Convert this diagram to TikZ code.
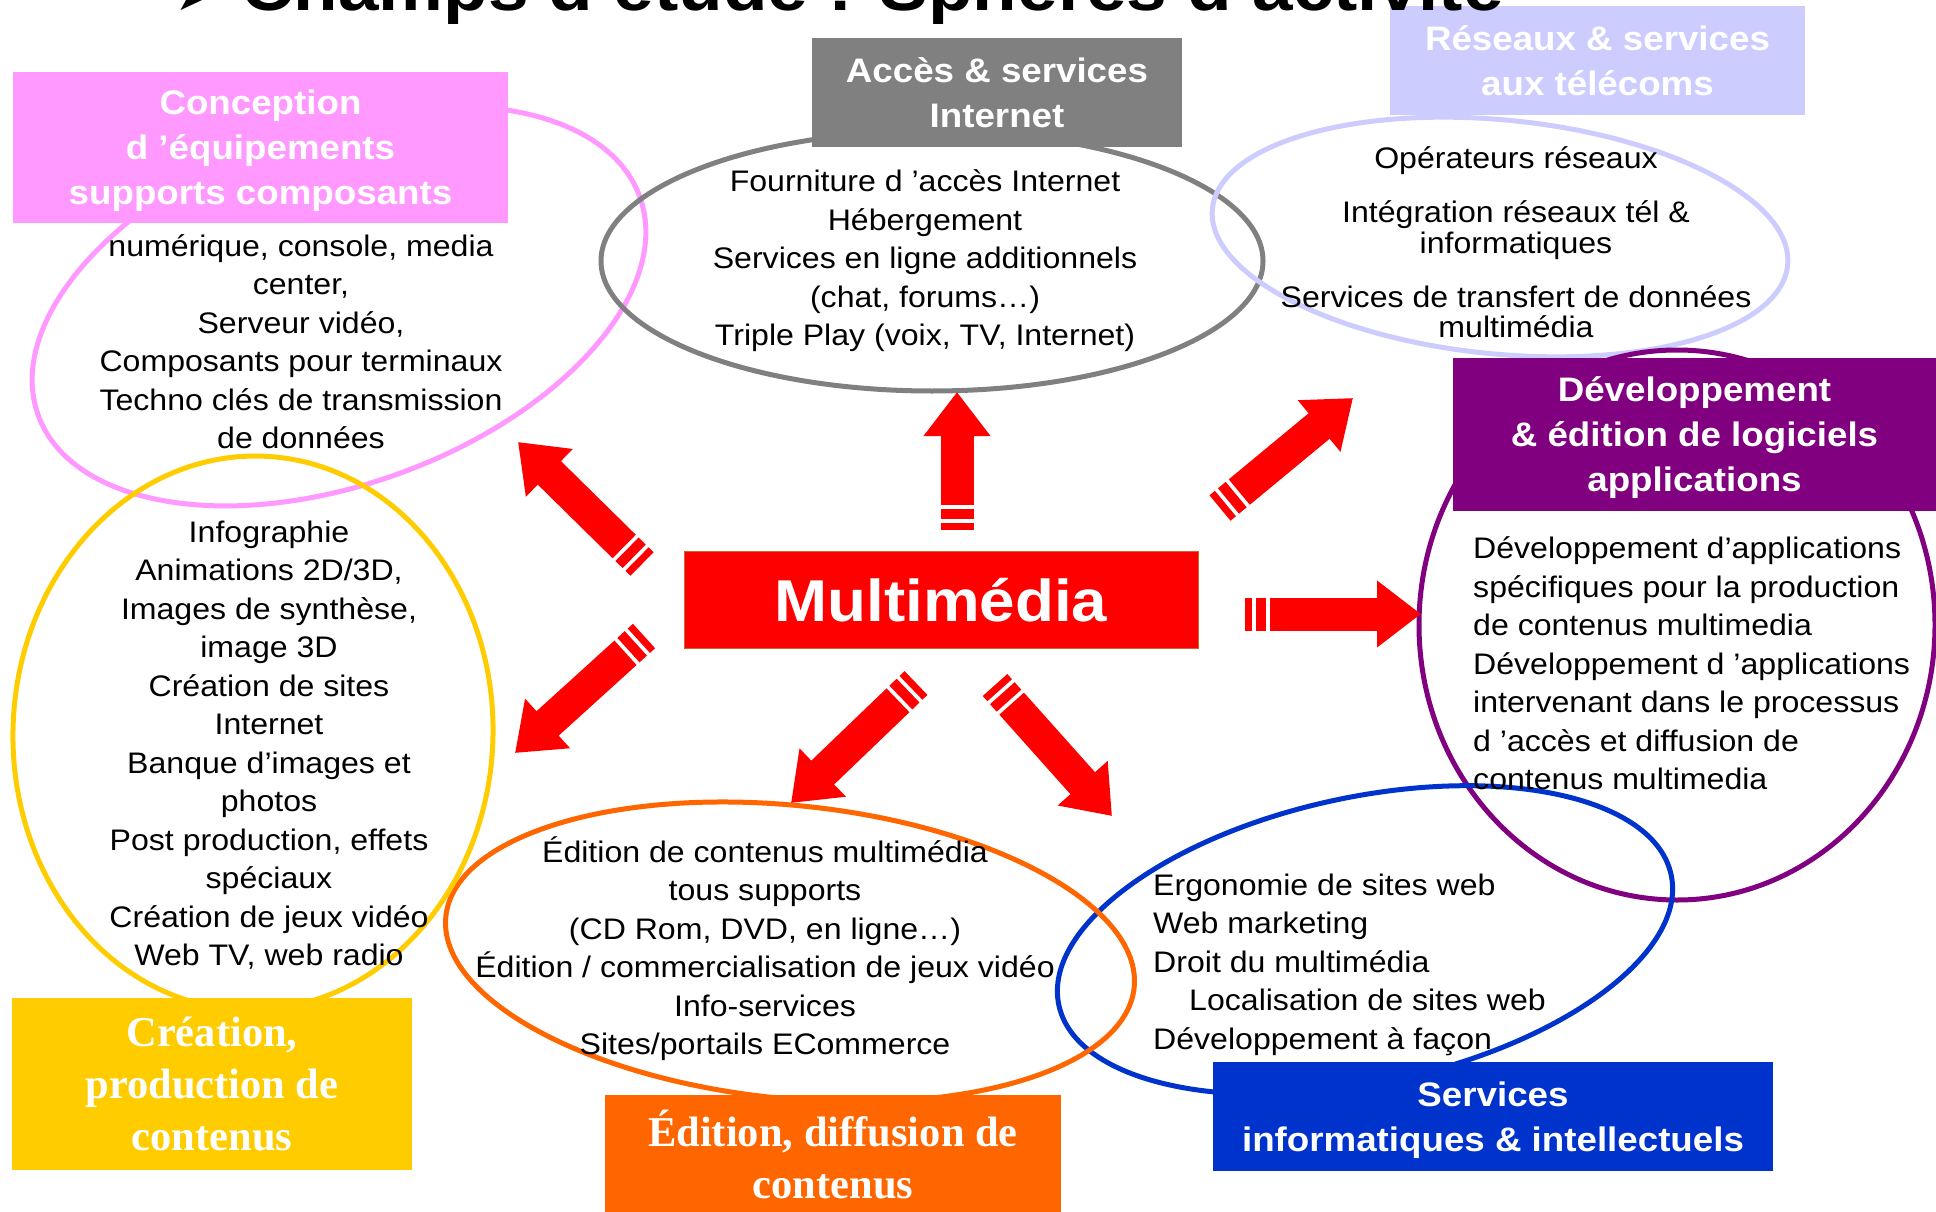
\documentclass[tikz,border=0pt]{standalone}
\usepackage{fontspec}
\setmainfont[FakeStretch=1.08]{Liberation Sans}
\newfontfamily\serifbold{Liberation Serif}
\newfontfamily\symbfont{DejaVu Sans}
\usetikzlibrary{arrows.meta,calc}

\definecolor{pinkc}{HTML}{FF99FF}
\definecolor{grayc}{HTML}{808080}
\definecolor{lavc}{HTML}{CCCCFF}
\definecolor{purplec}{HTML}{800080}
\definecolor{bluec}{HTML}{0033CC}
\definecolor{orangec}{HTML}{FF6600}
\definecolor{yellowc}{HTML}{FFCC00}
\definecolor{redc}{HTML}{FF0000}

\begin{document}
\begin{tikzpicture}[x=1pt, y=-1pt,
    ring/.style={line width=5pt},
    ringtext/.style={font=\fontsize{29.7}{38.5}\selectfont, align=center, inner sep=0pt},
    boxlabel/.style={rectangle, text=white, inner sep=0pt, text depth=0pt, align=center, font=\bfseries\fontsize{34}{45}\selectfont},
    serifbox/.style={boxlabel, font=\serifbold\bfseries\fontsize{42.5}{52}\selectfont},
    bigarrow/.style={redc, line width=33pt, -{Triangle[width=64pt,length=44pt]}},
    stripe/.style={redc, line width=33pt}]

    \useasboundingbox (0,0) rectangle (1936,1212);
    \clip (0,0) rectangle (1936,1212);

    % Ellipses
    \draw[ring, pinkc, rotate around={20:(339,306)}] (339,306) ellipse [x radius=320pt, y radius=178pt];
    \draw[ring, grayc] (932,261) ellipse [x radius=331pt, y radius=130pt];
    \draw[ring, lavc, rotate around={-5.6:(1500,237)}] (1500,237) ellipse [x radius=289pt, y radius=117pt];
    \draw[ring, purplec] (1677,625) ellipse [x radius=258pt, y radius=275pt];
    \draw[ring, bluec, rotate around={12:(1365,940)}] (1365,940) ellipse [x radius=313pt, y radius=143pt];
    \draw[ring, orangec, rotate around={-5.9:(790,952)}] (790,952) ellipse [x radius=346pt, y radius=146.5pt];
    \draw[ring, yellowc, rotate around={-2:(253,733)}] (253,733) ellipse [x radius=240pt, y radius=277pt];

    % Flèches
    \coordinate (nT) at (957,530);   \coordinate (nH) at (957,392);
    \coordinate (neT) at (1220,508); \coordinate (neH) at (1353,398);
    \coordinate (eT) at (1245,614);  \coordinate (eH) at (1421,614);
    \coordinate (nwT) at (642,564);  \coordinate (nwH) at (518,442);
    \coordinate (swT) at (644,636);  \coordinate (swH) at (515,753);
    \coordinate (sT) at (916,683);   \coordinate (sH) at (791,803);
    \coordinate (seT) at (995,685);  \coordinate (seH) at (1112,816);
    \foreach \t/\h in {nT/nH, neT/neH, eT/eH, nwT/nwH, swT/swH, sT/sH, seT/seH} {
        \draw[stripe] (\t) -- ($(\t)!7pt!(\h)$);
        \draw[stripe] ($(\t)!11pt!(\h)$) -- ($(\t)!21pt!(\h)$);
        \draw[bigarrow] ($(\t)!25pt!(\h)$) -- (\h);
    }

    % Textes
    \node[ringtext] (pinktext) at (301,341.5) {numérique, console, media\\center,\\Serveur vidéo,\\Composants pour terminaux\\Techno clés de transmission\\de données};
    \node[ringtext] (graytext) at (925,261) {Fourniture d ’accès Internet\\Hébergement\\Services en ligne additionnels\\(chat, forums…)\\Triple Play (voix, TV, Internet)};
    \node[ringtext, font=\fontsize{29.7}{30.5}\selectfont] (lavtext) at (1516,242.5) {Opérateurs réseaux\\[23.5pt]Intégration réseaux tél \&\\informatiques\\[23.5pt]Services de transfert de données\\multimédia};
    \node[ringtext] (yellowtext) at (269,745) {Infographie\\Animations 2D/3D,\\Images de synthèse,\\image 3D\\Création de sites\\Internet\\Banque d’images et\\photos\\Post production, effets\\spéciaux\\Création de jeux vidéo\\Web TV, web radio};
    \node[ringtext] (orangetext) at (765,948.5) {Édition de contenus multimédia\\tous supports\\(CD Rom, DVD, en ligne…)\\Édition / commercialisation de jeux vidéo\\Info-services\\Sites/portails ECommerce};
    \node[ringtext, align=left, anchor=west] (purpletext) at (1473,663.5) {Développement d’applications\\spécifiques pour la production\\de contenus multimedia\\Développement d ’applications\\intervenant dans le processus\\d ’accès et diffusion de\\contenus multimedia};
    \node[ringtext, align=left, anchor=west] (bluetext) at (1153,964.5) {Ergonomie de sites web\\Web marketing\\Droit du multimédia\\\hspace*{36pt}Localisation de sites web\\Développement à façon};

    % Cadres
    \node[boxlabel, fill=pinkc, minimum width=495pt, minimum height=151pt] (conception) at (260.5,147.5) {Conception\\d ’équipements\\supports composants};
    \node[boxlabel, fill=grayc, minimum width=370pt, minimum height=109pt] (acces) at (997,92.5) {Accès \& services\\Internet};
    \node[boxlabel, fill=lavc, minimum width=415pt, minimum height=109pt] (reseaux) at (1597.5,60.5) {Réseaux \& services\\aux télécoms};
    \node[boxlabel, fill=purplec, minimum width=483pt, minimum height=153pt] (logiciels) at (1694.5,434.5) {Développement\\\& édition de logiciels\\applications};
    \node[boxlabel, fill=bluec, minimum width=560pt, minimum height=109pt] (services) at (1493,1116.5) {Services\\informatiques \& intellectuels};
    \node[serifbox, fill=orangec, minimum width=456pt, minimum height=119pt] (edition) at (833,1154.5) {Édition, diffusion de\\contenus};
    \node[serifbox, fill=yellowc, minimum width=400pt, minimum height=172pt] (creation) at (212,1084) {Création,\\production de\\contenus};
    \node[boxlabel, fill=redc, draw={rgb,255:red,204;green,102;blue,51}, line width=1pt, minimum width=514pt, minimum height=97pt, font=\bfseries\fontsize{59}{60}\selectfont] (multimedia) at (941,599.5) {Multimédia};

    % Titre (coupé en haut)
    \node[anchor=base west, inner sep=0pt, font=\symbfont\fontsize{40}{42}\selectfont] (titlemark) at (176,11) {➤};
    \node[anchor=base west, inner sep=0pt, font=\bfseries\fontsize{67.5}{70}\selectfont] (title) at (241,11) {Champs d’étude : Sphères d’activité};
\end{tikzpicture}
\end{document}
